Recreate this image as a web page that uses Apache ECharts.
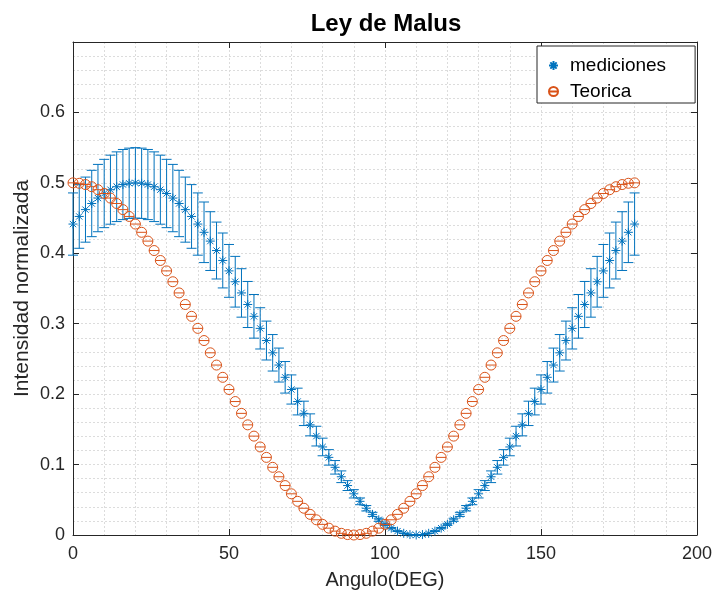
<!DOCTYPE html>
<html>
<head>
<meta charset="utf-8">
<script src="https://cdn.jsdelivr.net/npm/echarts@6/dist/echarts.min.js"></script>
<style>
  html, body { margin: 0; padding: 0; background: #fff; }
  #chart { width: 716px; height: 595px; }
</style>
</head>
<body>
<div id="chart"></div>
<script>
// ---- data ----
const angles = [0,2,4,6,8,10,12,14,16,18,20,22,24,26,28,30,32,34,36,38,40,42,44,46,48,50,52,54,56,58,60,62,64,66,68,70,72,74,76,78,80,82,84,86,88,90,92,94,96,98,100,102,104,106,108,110,112,114,116,118,120,122,124,126,128,130,132,134,136,138,140,142,144,146,148,150,152,154,156,158,160,162,164,166,168,170,172,174,176,178,180];

const mediciones = [0.4415,0.4523,0.4620,0.4707,0.4784,0.4849,0.4903,0.4945,0.4976,0.4994,0.5,0.4994,0.4976,0.4945,0.4903,0.4849,0.4784,0.4707,0.4620,0.4523,0.4415,0.4298,0.4173,0.4039,0.3898,0.375,0.3596,0.3437,0.3273,0.3105,0.2934,0.2761,0.2587,0.2413,0.2239,0.2066,0.1895,0.1727,0.1564,0.1404,0.125,0.1102,0.0961,0.0827,0.0702,0.0585,0.0478,0.0380,0.0293,0.0216,0.0151,0.0097,0.0055,0.0024,0.0006,0,0.0006,0.0024,0.0055,0.0097,0.0151,0.0216,0.0293,0.0380,0.0478,0.0585,0.0702,0.0827,0.0961,0.1102,0.125,0.1404,0.1564,0.1727,0.1895,0.2066,0.2239,0.2413,0.2587,0.2761,0.2934,0.3105,0.3273,0.3437,0.3596,0.375,0.3898,0.4039,0.4173,0.4298,0.4415];

const errores = [0.0442,0.0452,0.0462,0.0471,0.0478,0.0485,0.0490,0.0495,0.0498,0.0499,0.05,0.0499,0.0498,0.0495,0.0490,0.0485,0.0478,0.0471,0.0462,0.0452,0.0442,0.0430,0.0417,0.0404,0.0390,0.0375,0.0360,0.0344,0.0327,0.0310,0.0293,0.0276,0.0259,0.0241,0.0224,0.0207,0.0190,0.0173,0.0156,0.0140,0.0125,0.0110,0.0096,0.0083,0.0070,0.0059,0.0048,0.0038,0.0029,0.0022,0.0015,0.0010,0.0006,0.0002,0.0001,0,0.0001,0.0002,0.0006,0.0010,0.0015,0.0022,0.0029,0.0038,0.0048,0.0059,0.0070,0.0083,0.0096,0.0110,0.0125,0.0140,0.0156,0.0173,0.0190,0.0207,0.0224,0.0241,0.0259,0.0276,0.0293,0.0310,0.0327,0.0344,0.0360,0.0375,0.0390,0.0404,0.0417,0.0430,0.0442];

const teorica = [0.5,0.4994,0.4976,0.4945,0.4903,0.4849,0.4784,0.4707,0.4620,0.4523,0.4415,0.4298,0.4173,0.4039,0.3898,0.375,0.3596,0.3437,0.3273,0.3105,0.2934,0.2761,0.2587,0.2413,0.2239,0.2066,0.1895,0.1727,0.1564,0.1404,0.125,0.1102,0.0961,0.0827,0.0702,0.0585,0.0478,0.0380,0.0293,0.0216,0.0151,0.0097,0.0055,0.0024,0.0006,0,0.0006,0.0024,0.0055,0.0097,0.0151,0.0216,0.0293,0.0380,0.0478,0.0585,0.0702,0.0827,0.0961,0.1102,0.125,0.1404,0.1564,0.1727,0.1895,0.2066,0.2239,0.2413,0.2587,0.2761,0.2934,0.3105,0.3273,0.3437,0.3596,0.375,0.3898,0.4039,0.4173,0.4298,0.4415,0.4523,0.4620,0.4707,0.4784,0.4849,0.4903,0.4945,0.4976,0.4994,0.5];

const seriesNames = ['mediciones', 'Teorica'];
const titleText = 'Ley de Malus';
const xName = 'Angulo(DEG)';
const yName = 'Intensidad normalizada';

// ---- styling ----
const FONT = '"Liberation Sans", Arial, Helvetica, sans-serif';
const AX = '#262626';
const BLUE = '#0072BD';
const ORANGE = '#D95319';
const GRID = '#dcdcdc';

const medData = angles.map((a, i) => [a, mediciones[i], errores[i]]);
const teoData = angles.map((a, i) => [a, teorica[i]]);

const chart = echarts.init(document.getElementById('chart'), null, { renderer: 'canvas' });

const commonAxisLine = { show: true, onZero: false, lineStyle: { color: AX, width: 1 } };
const gridLine = { show: true, lineStyle: { color: GRID, type: [2, 2], width: 1 } };

chart.setOption({
  animation: false,
  backgroundColor: '#fff',
  title: {
    text: titleText,
    left: 381,
    textAlign: 'center',
    top: 7,
    textStyle: { fontFamily: FONT, fontSize: 24, fontWeight: 'bold', color: '#000' }
  },
  grid: { left: 73, right: 19, top: 42, bottom: 60, containLabel: false },
  legend: {
    orient: 'vertical',
    left: 537,
    top: 46,
    padding: [10, 29, 2, 11],
    itemGap: 7,
    itemWidth: 23,
    itemHeight: 9,
    backgroundColor: '#fff',
    borderColor: AX,
    borderWidth: 1,
    borderRadius: 0,
    textStyle: { fontFamily: FONT, fontSize: 19, color: '#000' },
    data: seriesNames
  },
  xAxis: [
    {
      type: 'value', min: 0, max: 200, interval: 50,
      name: xName, nameLocation: 'middle', nameGap: 35, nameMoveOverlap: false,
      nameTextStyle: { fontFamily: FONT, fontSize: 20, color: AX },
      axisLine: commonAxisLine,
      axisTick: { show: true, inside: true, length: 6, lineStyle: { color: AX } },
      minorTick: { show: false, splitNumber: 5 },
      axisLabel: { fontFamily: FONT, fontSize: 18, color: AX, margin: 10 },
      splitLine: gridLine,
      minorSplitLine: { show: true, lineStyle: { color: GRID, type: [2, 2], width: 1 } }
    },
    {
      type: 'value', min: 0, max: 200, interval: 50, position: 'top',
      axisLine: commonAxisLine,
      axisTick: { show: true, inside: true, length: 6, lineStyle: { color: AX } },
      axisLabel: { show: false },
      splitLine: { show: false }
    }
  ],
  yAxis: [
    {
      type: 'value', min: 0, max: 0.7, interval: 0.1,
      name: yName, nameLocation: 'middle', nameGap: 40, nameRotate: 90, nameMoveOverlap: false,
      nameTextStyle: { fontFamily: FONT, fontSize: 21, color: AX },
      axisLine: commonAxisLine,
      axisTick: { show: true, inside: true, length: 6, lineStyle: { color: AX } },
      minorTick: { show: false, splitNumber: 5 },
      axisLabel: {
        fontFamily: FONT, fontSize: 18, color: AX, margin: 8,
        formatter: v => (v > 0.65 ? '' : String(+v.toFixed(1)))
      },
      splitLine: gridLine,
      minorSplitLine: { show: true, lineStyle: { color: GRID, type: [2, 2], width: 1 } }
    },
    {
      type: 'value', min: 0, max: 0.7, interval: 0.1, position: 'right',
      axisLine: commonAxisLine,
      axisTick: { show: true, inside: true, length: 6, lineStyle: { color: AX } },
      axisLabel: { show: false },
      splitLine: { show: false }
    }
  ],
  series: [
    {
      name: seriesNames[0] + '_err',
      type: 'custom',
      xAxisIndex: 0, yAxisIndex: 0,
      data: medData,
      z: 2,
      silent: true,
      renderItem: function (params, api) {
        const x = api.value(0), y = api.value(1), e = api.value(2);
        const lo = api.coord([x, y - e]);
        const hi = api.coord([x, y + e]);
        const hw = 5;
        const st = { stroke: BLUE, lineWidth: 1, fill: null };
        return {
          type: 'group',
          children: [
            { type: 'line', shape: { x1: lo[0], y1: lo[1], x2: hi[0], y2: hi[1] }, style: st },
            { type: 'line', shape: { x1: lo[0] - hw, y1: lo[1], x2: lo[0] + hw, y2: lo[1] }, style: st },
            { type: 'line', shape: { x1: hi[0] - hw, y1: hi[1], x2: hi[0] + hw, y2: hi[1] }, style: st }
          ]
        };
      }
    },
    {
      name: seriesNames[0],
      type: 'scatter',
      xAxisIndex: 0, yAxisIndex: 0,
      data: medData.map(d => [d[0], d[1]]),
      symbol: 'path://M5,0L5,10M0,5L10,5M1.5,1.5L8.5,8.5M1.5,8.5L8.5,1.5',
      symbolSize: 9,
      z: 3,
      itemStyle: { color: BLUE, borderColor: BLUE, borderWidth: 1, opacity: 1 }
    },
    {
      name: seriesNames[1],
      type: 'scatter',
      xAxisIndex: 0, yAxisIndex: 0,
      data: teoData,
      symbol: 'path://M0,5A5,5,0,1,1,10,5A5,5,0,1,1,0,5ZM0,5L10,5',
      symbolSize: 10,
      z: 4,
      itemStyle: { color: 'rgba(0,0,0,0)', borderColor: ORANGE, borderWidth: 1, opacity: 1 }
    }
  ]
});
</script>
</body>
</html>
